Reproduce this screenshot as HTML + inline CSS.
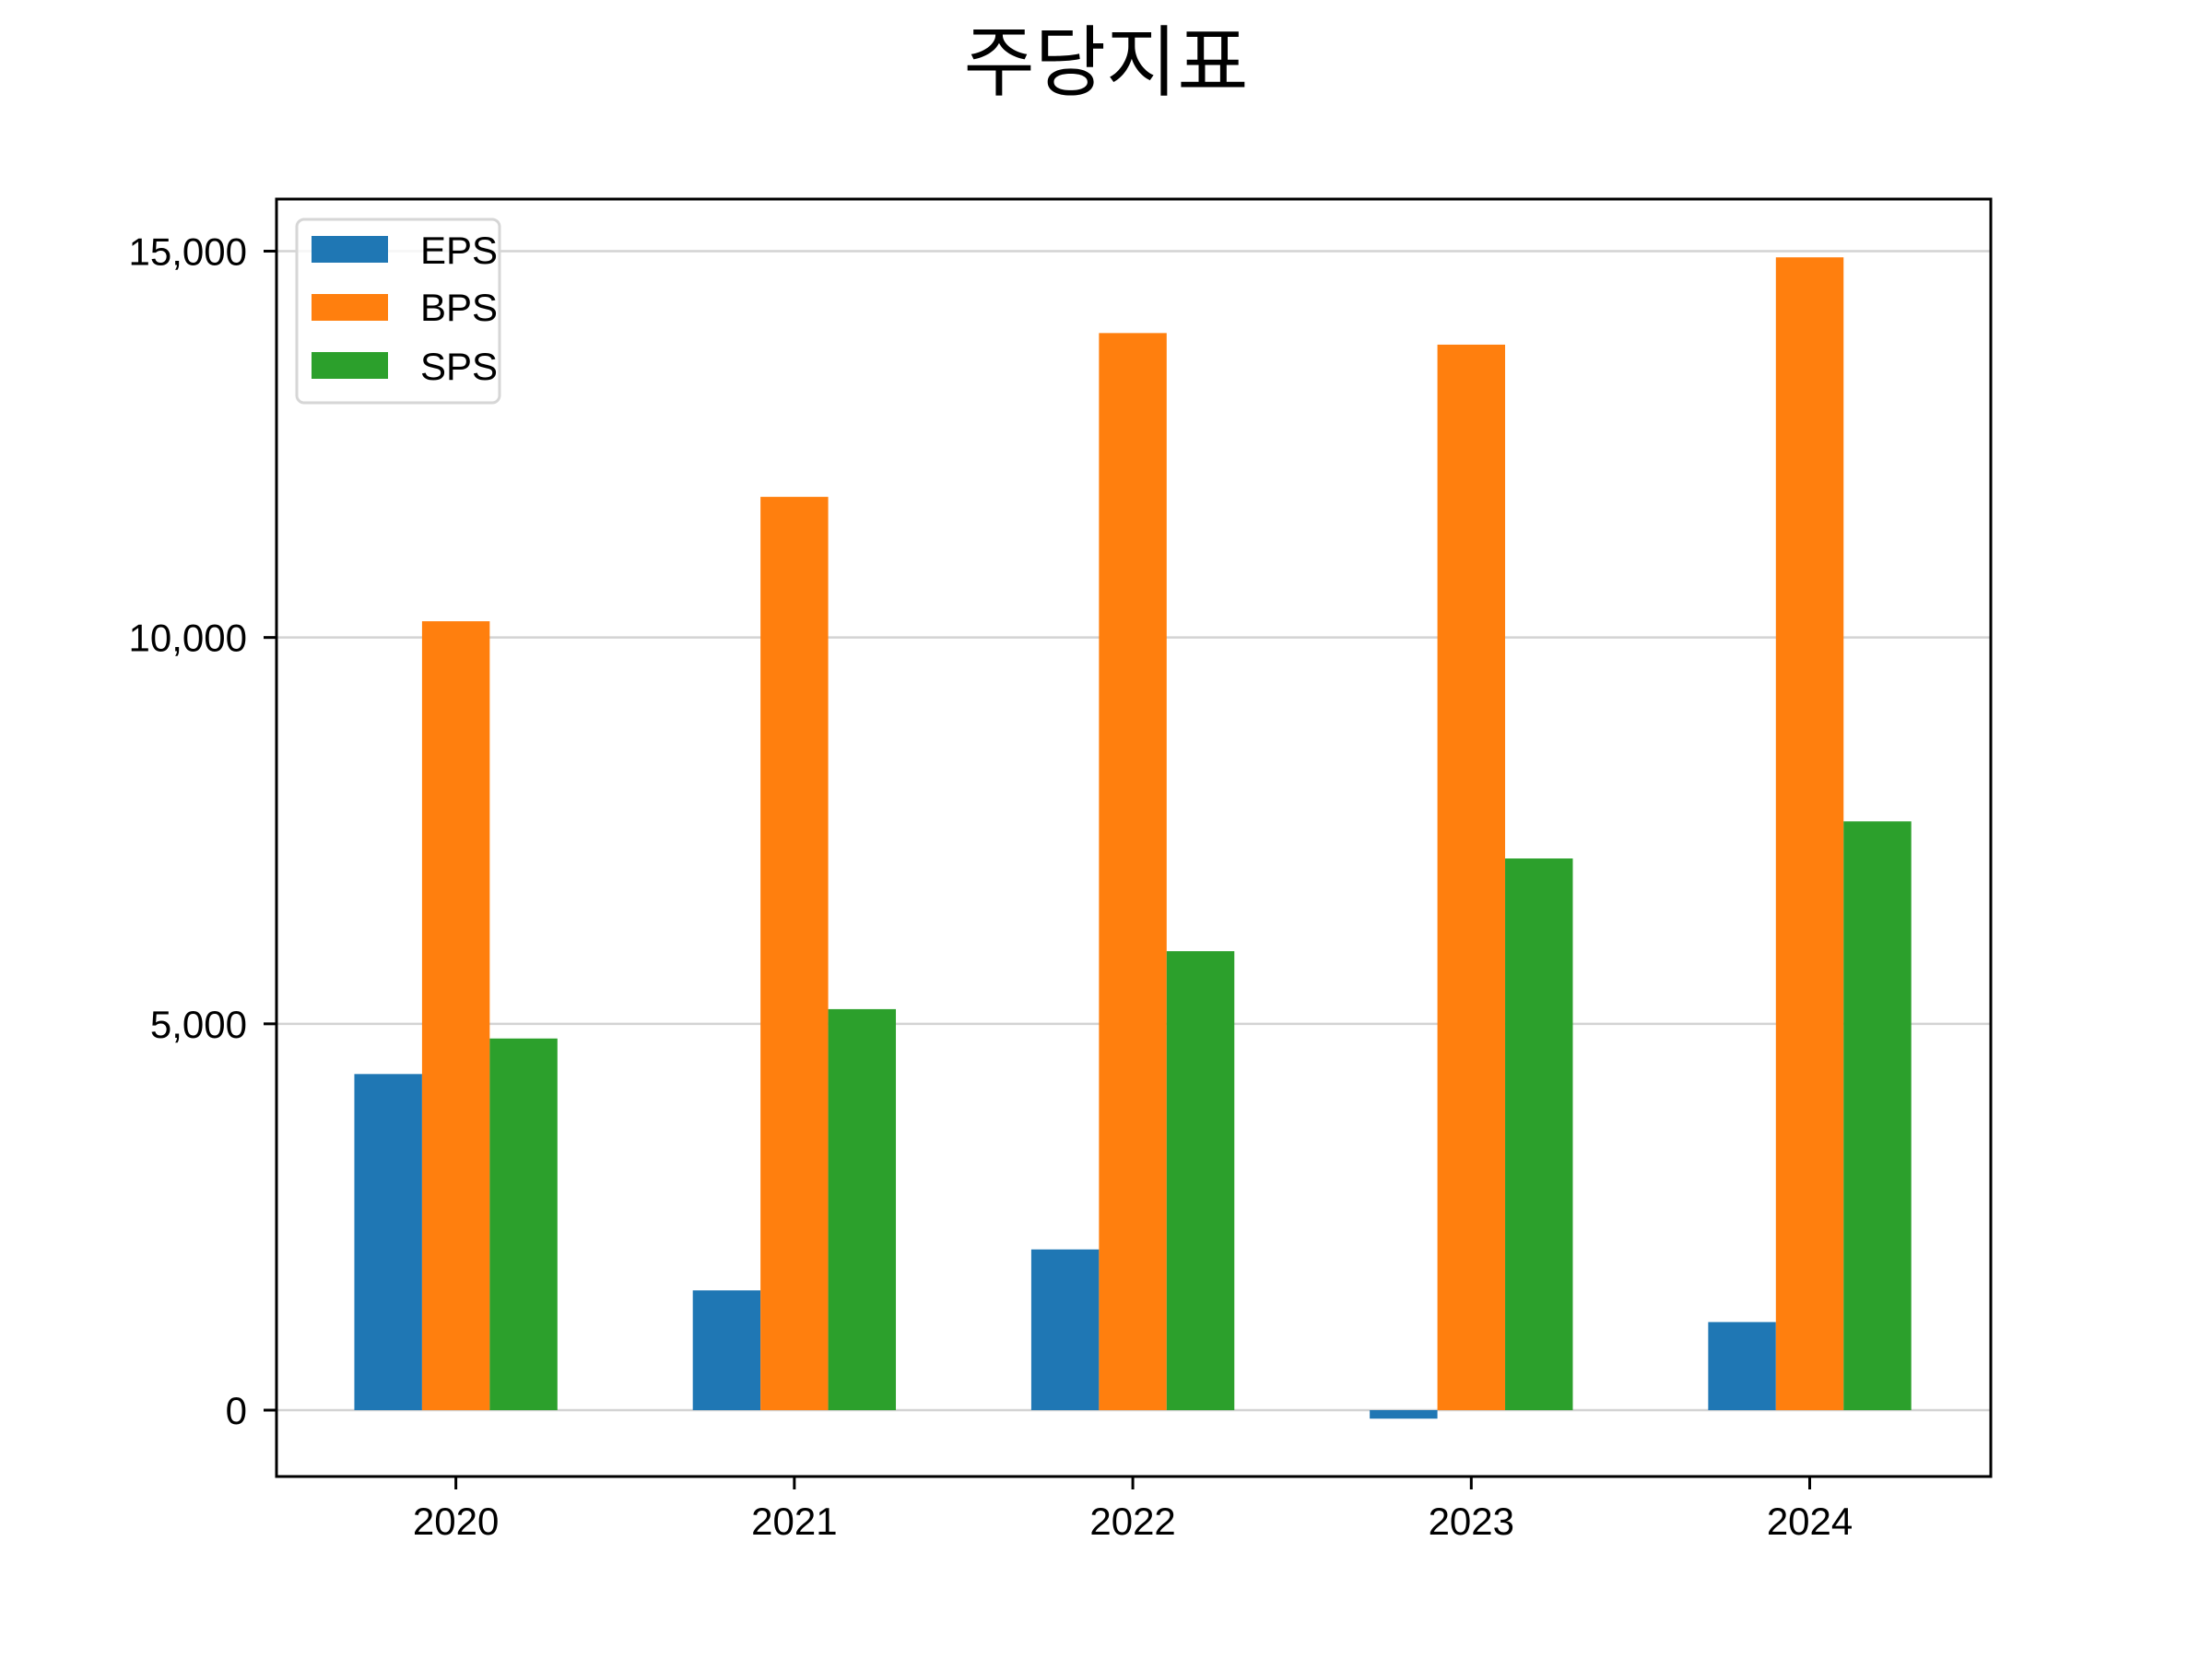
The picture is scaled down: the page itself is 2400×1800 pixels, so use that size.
<!DOCTYPE html>
<html><head><meta charset="utf-8"><style>
html,body{margin:0;padding:0;background:#fff;}
svg{display:block;}
text{font-family:"Liberation Sans","Noto Sans CJK KR",sans-serif;fill:#000;}
</style></head><body>
<svg id="chart" width="2400" height="1800" viewBox="0 0 2400 1800" xmlns="http://www.w3.org/2000/svg">
<rect width="2400" height="1800" fill="#fff"/>
<text x="1200" y="97" text-anchor="middle" font-size="84" style="font-family:'Noto Sans CJK KR',sans-serif">주당지표</text>
<g id="grid"></g>
<g id="bars"></g>
<g id="axes"></g>
<g id="legend"></g>
</svg>
<script>
const categories = ["2020","2021","2022","2023","2024"];
const seriesNames = ["EPS","BPS","SPS"];
const epsValues = [4350, 1550, 2080, -110, 1140];
const bpsValues = [10210, 11820, 13940, 13790, 14920];
const spsValues = [4810, 5190, 5940, 7140, 7620];
const yTicks = [0, 5000, 10000, 15000];
const yTickLabels = ["0","5,000","10,000","15,000"];
const colors = ["#1f77b4","#ff7f0e","#2ca02c"];

const L=300,R=2160,T=216,B=1602;
const xMin=-0.53,xMax=4.535;
const yZero=1530, pxPerUnit=1257.5/15000;
function xScale(i){return L+(i-xMin)/(xMax-xMin)*(R-L);}
function yScale(v){return yZero-v*pxPerUnit;}
const NS="http://www.w3.org/2000/svg";
function mk(tag,attrs,parent){const e=document.createElementNS(NS,tag);for(const k in attrs)e.setAttribute(k,attrs[k]);parent.appendChild(e);return e;}

const grid=document.getElementById('grid');
const axes=document.getElementById('axes');
const bars=document.getElementById('bars');
const legend=document.getElementById('legend');

yTicks.forEach((t,k)=>{
  const y=yScale(t);
  const g=mk('line',{x1:L,x2:R,y1:y,y2:y,stroke:'#d3d3d3','stroke-width':2.5},grid);
  
  
  const tk=mk('line',{x1:L-14,x2:L,y1:y,y2:y,stroke:'#000','stroke-width':3},axes);
  
  
  const tx=mk('text',{x:268,y:y+15,'text-anchor':'end','font-size':42},axes);
  tx.textContent=yTickLabels[k];
  
  
});

const all=[epsValues,bpsValues,spsValues];
const w=0.2;
all.forEach((vals,s)=>{
  vals.forEach((v,i)=>{
    const c=i+(s-1)*w;
    const x0=xScale(c-w/2),x1=xScale(c+w/2);
    const y0=yScale(Math.max(v,0)),y1=yScale(Math.min(v,0));
    const r=mk('rect',{x:x0,y:y0,width:x1-x0,height:y1-y0,fill:colors[s]},bars);
    
    
  });
});

categories.forEach((c,i)=>{
  const x=xScale(i);
  const tk=mk('line',{x1:x,x2:x,y1:B,y2:B+14,stroke:'#000','stroke-width':3},axes);
  
  
  const tx=mk('text',{x:x,y:1665,'text-anchor':'middle','font-size':42},axes);
  tx.textContent=c;
  
  
});

const frame=mk('rect',{x:L,y:T,width:R-L,height:B-T,fill:'none',stroke:'#000','stroke-width':3},axes);



const box=mk('rect',{x:322,y:238,width:220,height:199,rx:8,fill:'#fff','fill-opacity':0.8,stroke:'#d6d6d6','stroke-width':3},legend);


const py=[256,319,382], ty=[286,348,412];
seriesNames.forEach((n,s)=>{
  const p=mk('rect',{x:338,y:py[s],width:83,height:29,fill:colors[s]},legend);
  
  
  const t=mk('text',{x:456,y:ty[s],'font-size':42},legend);
  t.textContent=n;
  
  
});
</script>
</body></html>
